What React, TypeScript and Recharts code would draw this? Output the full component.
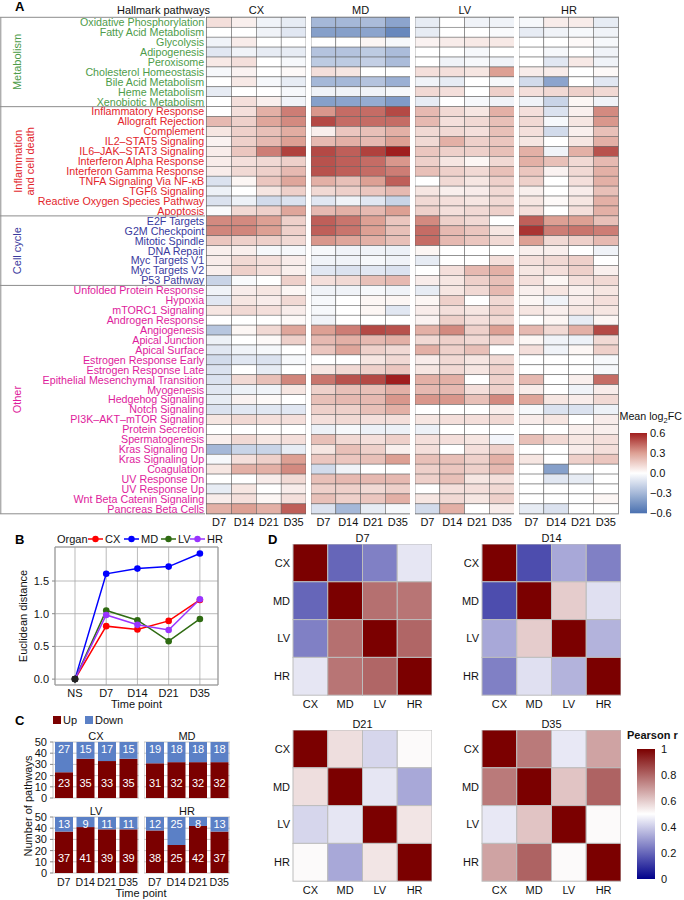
import React from "react";
import {
  ScatterChart,
  Scatter,
  XAxis,
  YAxis,
  ReferenceArea,
  LineChart,
  Line,
  CartesianGrid,
  BarChart,
  Bar,
  LabelList,
} from "recharts";

const FONT = "'Liberation Sans', Arial, Helvetica, sans-serif";

// ---------- panel A data ----------
const pathways = [
  "Oxidative Phosphorylation", "Fatty Acid Metabolism", "Glycolysis", "Adipogenesis", "Peroxisome",
  "Cholesterol Homeostasis", "Bile Acid Metabolism", "Heme Metabolism", "Xenobiotic Metabolism",
  "Inflammatory Response", "Allograft Rejection", "Complement", "IL2–STAT5 Signaling",
  "IL6–JAK–STAT3 Signaling", "Interferon Alpha Response", "Interferon Gamma Response",
  "TNFA Signaling Via NF-κB", "TGFß Signaling", "Reactive Oxygen Species Pathway", "Apoptosis",
  "E2F Targets", "G2M Checkpoint", "Mitotic Spindle", "DNA Repair", "Myc Targets V1", "Myc Targets V2",
  "P53 Pathway",
  "Unfolded Protein Response", "Hypoxia", "mTORC1 Signaling", "Androgen Response", "Angiogenesis",
  "Apical Junction", "Apical Surface", "Estrogen Response Early", "Estrogen Response Late",
  "Epithelial Mesenchymal Transition", "Myogenesis", "Hedgehog Signaling", "Notch Signaling",
  "PI3K–AKT–mTOR Signaling", "Protein Secretion", "Spermatogenesis", "Kras Signaling Dn",
  "Kras Signaling Up", "Coagulation", "UV Response Dn", "UV Response Up", "Wnt Beta Catenin Signaling",
  "Pancreas Beta Cells",
];
const groupNames = [["Metabolism"], ["Inflammation", "and cell death"], ["Cell cycle"], ["Other"]];
const groupSizes = [9, 11, 7, 23];
const groupColors = ["#4e9c4a", "#e2252b", "#3a3a9e", "#de1b9c"];
const timePoints = ["D7", "D14", "D21", "D35"];
const organs = ["CX", "MD", "LV", "HR"];

// mean log2FC, one row per pathway: D7, D14, D21, D35
const fcCX = [
  [0.1, 0.05, -0.05, -0.08], [0, 0, -0.05, -0.1], [-0.05, 0.06, 0, 0], [-0.1, -0.05, -0.08, -0.08],
  [0.07, 0.1, 0, -0.03], [-0.03, 0.04, 0, 0.02], [0, 0.07, -0.03, -0.08], [-0.08, 0, 0, -0.03],
  [0, 0.1, 0.05, -0.05],
  [0, 0.1, 0.25, 0.38], [0.22, 0.15, 0.28, 0.35], [0.08, 0.15, 0.2, 0.26], [0.04, 0.15, 0.22, 0.3],
  [0.06, 0.18, 0.38, 0.52], [0.06, 0.1, 0.12, 0.15], [0.06, 0.12, 0.15, 0.22], [-0.12, 0.03, 0.18, 0.28],
  [-0.06, 0, 0.08, 0.15], [-0.12, -0.06, -0.15, -0.12], [-0.02, 0.12, 0.15, 0.28],
  [0.35, 0.35, 0.3, 0.15], [0.36, 0.36, 0.3, 0.15], [0.18, 0.15, 0.15, 0.12], [0.05, 0.05, -0.03, -0.03],
  [0.06, 0.12, 0.1, 0.06], [0.05, 0.15, 0.1, 0.05], [-0.18, -0.02, 0, 0.15],
  [-0.05, 0.06, 0.08, 0.03], [-0.1, 0.08, 0.06, 0.12], [0.08, 0.12, 0.1, 0.06], [0, 0, 0, 0.02],
  [-0.24, 0.03, 0.12, 0.28], [-0.06, 0, 0.02, 0.15], [-0.1, -0.05, -0.03, 0], [-0.15, -0.1, -0.12, -0.03],
  [-0.12, 0, -0.08, 0], [-0.12, 0.12, 0.2, 0.36], [-0.1, -0.06, -0.05, 0.08], [-0.08, 0.04, 0.02, 0],
  [-0.12, -0.1, -0.1, -0.1], [0.08, 0.12, 0.1, 0.1], [0, 0, 0, 0], [0.05, 0.12, 0.08, 0.1],
  [-0.3, -0.18, -0.18, -0.08], [-0.03, 0.1, 0.15, 0.3], [0.08, 0.25, 0.25, 0.35], [0, 0, 0.06, 0.12],
  [-0.08, 0.08, 0, 0.06], [0.06, 0.1, 0.03, 0.1], [0.25, 0.3, 0.25, 0.45],
];
const fcMD = [
  [-0.3, -0.3, -0.28, -0.38], [-0.4, -0.4, -0.38, -0.5], [0, 0, 0.03, -0.03], [-0.25, -0.25, -0.22, -0.28],
  [-0.22, -0.22, -0.2, -0.28], [0.1, 0.08, 0, 0], [-0.3, -0.3, -0.25, -0.33], [-0.05, -0.05, -0.05, -0.03],
  [-0.4, -0.38, -0.35, -0.42],
  [0.32, 0.42, 0.42, 0.5], [0.5, 0.42, 0.42, 0.42], [0.05, 0.18, 0.2, 0.25], [0.22, 0.25, 0.22, 0.3],
  [0.5, 0.45, 0.52, 0.62], [0.48, 0.45, 0.42, 0.32], [0.48, 0.45, 0.42, 0.38], [0.25, 0.2, 0.3, 0.45],
  [0.12, 0.15, 0.18, 0.22], [-0.1, -0.05, -0.1, -0.18], [0.22, 0.25, 0.22, 0.3],
  [0.45, 0.4, 0.3, 0.18], [0.45, 0.4, 0.3, 0.2], [0.32, 0.28, 0.25, 0.2], [-0.03, -0.05, -0.05, -0.06],
  [-0.05, -0.05, -0.03, -0.05], [-0.1, -0.12, -0.1, -0.12], [0.1, 0.12, 0.2, 0.22],
  [-0.05, -0.05, -0.03, -0.05], [-0.03, 0, 0.03, 0.03], [-0.03, 0, 0.03, -0.1], [-0.05, 0, 0, 0],
  [0.3, 0.38, 0.5, 0.48], [0.22, 0.25, 0.22, 0.25], [0.18, 0.28, 0.15, 0.12], [0, 0, 0.08, 0.12],
  [0.08, 0.12, 0.15, 0.18], [0.4, 0.48, 0.5, 0.62], [0.15, 0.2, 0.2, 0.25], [0.2, 0.22, 0.22, 0.32],
  [0.15, 0.15, 0.2, 0.25], [0.1, 0.12, 0.1, 0.1], [-0.06, -0.03, -0.06, -0.06], [0.2, 0.12, 0.1, 0.15],
  [0.08, 0.2, 0.15, 0.05], [0.18, 0.18, 0.2, 0.3], [-0.15, -0.05, 0, 0], [0.2, 0.22, 0.22, 0.22],
  [0.15, 0.15, 0.12, 0.15], [0.2, 0.15, 0.18, 0.25], [-0.12, -0.3, -0.08, -0.03],
];
const fcLV = [
  [-0.08, 0, -0.05, -0.05], [-0.08, 0, 0, -0.02], [0.04, 0.06, 0.07, 0.07], [0, 0, -0.03, 0],
  [0, -0.05, -0.03, -0.05], [0.1, 0.1, 0.08, 0.3], [-0.05, -0.08, 0, -0.03], [0.12, 0.1, 0, 0.15],
  [-0.08, 0, -0.03, -0.05],
  [0.22, 0.12, 0.08, 0.25], [0.22, 0.1, 0.12, 0.2], [0.12, 0.12, 0.1, 0.2], [0.12, 0.25, 0.15, 0.18],
  [0.18, 0.15, 0.15, 0.2], [0.15, 0.08, 0.03, 0.12], [0.2, 0.15, 0.12, 0.2], [0, 0.12, 0.08, 0.15],
  [0.08, 0.05, 0.06, 0.12], [0.12, 0.1, 0.08, 0.12], [0.15, 0.1, 0.12, 0.15],
  [0.35, 0.15, 0.12, 0], [0.42, 0.22, 0.18, 0.08], [0.42, 0.22, 0.18, 0.12], [0.03, 0, 0, 0],
  [-0.08, 0, 0, 0.1], [0, 0.1, 0.22, 0.25], [0.06, 0.08, 0.15, 0.2],
  [-0.08, 0.08, 0.12, 0.22], [0.03, 0.15, 0, 0.12], [0.06, 0.1, 0.08, 0.15], [0.04, 0.15, 0.1, 0.12],
  [0.25, 0.35, 0.15, 0.3], [0.12, 0.15, 0.12, 0.15], [0.25, 0.15, 0.2, 0], [0.06, 0.12, 0.08, 0.12],
  [0.08, 0.12, 0.08, 0.15], [0.25, 0.25, 0, 0.15], [0.22, 0.22, 0.1, 0.15], [0.32, 0.32, 0.2, 0.35],
  [0, 0, 0, 0.05], [0.08, 0.1, 0.1, 0.12], [-0.06, 0, 0, 0], [0.1, 0.1, 0.08, -0.04],
  [0.1, 0, 0.1, 0.15], [0.2, 0.2, 0.15, 0.25], [0.15, 0.18, 0.15, 0.22], [0.15, 0.2, 0.08, 0.1],
  [0, 0.1, 0.1, 0.12], [0.08, 0.12, 0.08, 0.15], [-0.15, 0.25, 0, 0.06],
];
const fcHR = [
  [-0.03, 0.06, 0.06, -0.08], [-0.08, -0.05, -0.03, -0.05], [0, 0, 0.02, -0.03], [0, -0.03, 0, -0.05],
  [0, -0.1, 0.07, -0.05], [0.06, 0.06, 0, 0.02], [-0.15, -0.38, 0, -0.1], [0.1, 0.12, 0.15, 0.12],
  [-0.05, -0.18, 0.03, -0.05],
  [0.1, -0.12, 0.05, 0.35], [0.12, -0.03, 0.08, 0.32], [0.1, -0.15, 0.05, 0.2], [0.08, 0, 0.08, 0.25],
  [0.25, -0.05, 0.25, 0.48], [0.25, 0.2, 0.12, 0.22], [0.18, 0.04, 0.12, 0.25], [0.15, 0, 0.1, 0.25],
  [0.05, 0, 0.06, 0.2], [0.08, 0.02, 0.08, 0.25], [0.1, 0, 0.1, 0.25],
  [0.45, 0.3, 0.3, 0.2], [0.55, 0.38, 0.4, 0.38], [0.3, 0.12, 0.15, 0.22], [0.05, 0.05, 0, -0.05],
  [0.1, 0.12, 0.15, 0], [0.08, 0.1, 0.15, 0.05], [0.1, 0.03, 0.1, 0.12],
  [0.05, 0.08, 0.05, 0.08], [0.03, -0.05, 0.06, 0.1], [0.08, 0.05, 0.08, 0.08], [0, 0.03, -0.08, 0.03],
  [0.22, 0.12, 0.25, 0.5], [0.03, -0.05, -0.06, 0.12], [0.1, -0.05, 0.03, 0.15], [0, 0, 0, -0.03],
  [0, 0, 0, -0.03], [0.22, 0, 0.05, 0.42], [0.06, 0, -0.05, 0.06], [0.28, 0.08, 0.06, 0.12],
  [-0.03, -0.12, -0.12, -0.06], [0.06, 0.08, 0, 0.06], [0, 0, 0.05, 0.05], [0.2, 0.12, 0.08, 0.1],
  [0, 0, 0.06, 0.1], [0.08, 0, 0.15, 0.18], [0, -0.4, 0, 0], [0, -0.1, -0.08, 0],
  [0, 0, 0, 0], [0, 0, 0, 0.03], [-0.08, -0.12, 0, 0],
];
const fcBlocks = [fcCX, fcMD, fcLV, fcHR];
const fcLegendTicks = [0.6, 0.3, 0, -0.3, -0.6];

// ---------- panel B data ----------
const bTimes = ["NS", "D7", "D14", "D21", "D35"];
const distCX = [0, 0.81, 0.76, 0.89, 1.21];
const distMD = [0, 1.61, 1.69, 1.72, 1.92];
const distLV = [0, 1.05, 0.9, 0.58, 0.92];
const distHR = [0, 0.98, 0.83, 0.75, 1.22];
const distTicks = [0, 0.5, 1, 1.5];

// ---------- panel C data ----------
const upCX = [23, 35, 33, 35];
const downCX = [27, 15, 17, 15];
const upMD = [31, 32, 32, 32];
const downMD = [19, 18, 18, 18];
const upLV = [37, 41, 39, 39];
const downLV = [13, 9, 11, 11];
const upHR = [38, 25, 42, 37];
const downHR = [12, 25, 8, 13];
const countTicks = [0, 10, 20, 30, 40, 50];

// ---------- panel D data ----------
const corrD7 = [
  [1, 0.2, 0.25, 0.45],
  [0.2, 1, 0.78, 0.77],
  [0.25, 0.78, 1, 0.8],
  [0.45, 0.77, 0.8, 1],
];
const corrD14 = [
  [1, 0.15, 0.33, 0.25],
  [0.15, 1, 0.6, 0.44],
  [0.33, 0.6, 1, 0.35],
  [0.25, 0.44, 0.35, 1],
];
const corrD21 = [
  [1, 0.565, 0.42, 0.51],
  [0.565, 1, 0.45, 0.33],
  [0.42, 0.45, 1, 0.55],
  [0.51, 0.33, 0.55, 1],
];
const corrD35 = [
  [1, 0.76, 0.455, 0.68],
  [0.76, 1, 0.615, 0.805],
  [0.455, 0.615, 1, 0.51],
  [0.68, 0.805, 0.51, 1],
];
const pearsonTicks = [1, 0.8, 0.6, 0.4, 0.2, 0];

// ---------- colours ----------
const UP_COLOR = "#7b0000";
const DOWN_COLOR = "#5b80c6";

function ramp(stops: [number, number[]][], v: number) {
  const x = Math.max(stops[0][0], Math.min(stops[stops.length - 1][0], v));
  for (let i = 0; i < stops.length - 1; i++) {
    const [a, ca] = stops[i];
    const [b, cb] = stops[i + 1];
    if (x <= b) {
      const t = (x - a) / (b - a);
      return `rgb(${ca.map((c, k) => Math.round(c + (cb[k] - c) * t)).join(",")})`;
    }
  }
  return `rgb(${stops[stops.length - 1][1].join(",")})`;
}
const fcStops: [number, number[]][] = [
  [-0.6, [74, 112, 176]],
  [0, [255, 255, 255]],
  [0.3, [221, 160, 148]],
  [0.6, [160, 30, 30]],
];
const pearsonStops: [number, number[]][] = [
  [0, [0, 0, 139]],
  [0.5, [255, 255, 255]],
  [1, [123, 0, 0]],
];
const fcColor = (v: number) => ramp(fcStops, v);
const pearsonColor = (v: number) => ramp(pearsonStops, v);

// ---------- layout ----------
const HM_TOP = 17.3;
const ROW_H = 9.93;
const HM_H = pathways.length * ROW_H;
const LABEL_W = 206.7;
const BLOCK_W = 99.3;
const BLOCK_PITCH = 104.2;

const groupStart = groupSizes.map((_, i) => groupSizes.slice(0, i).reduce((a, b) => a + b, 0));
const groupOf = (row: number) => groupStart.filter((s) => s <= row).length - 1;

function HeatBlock({ index }: { index: number }) {
  const values = fcBlocks[index];
  const withLabels = index === 0;
  const data = values.flatMap((row, r) => row.map((v, c) => ({ col: c, row: r, v })));
  const cw = BLOCK_W / timePoints.length;
  const rowTicks = pathways.map((_, i) => i);
  return (
    <div style={{ position: "absolute", left: withLabels ? 0 : LABEL_W + index * BLOCK_PITCH, top: 0 }}>
      <ScatterChart
        width={(withLabels ? LABEL_W : 0) + BLOCK_W}
        height={HM_TOP + HM_H + 16}
        margin={{ top: HM_TOP, right: 0, bottom: 0, left: 0 }}
      >
        <XAxis
          type="number"
          dataKey="col"
          domain={[-0.5, timePoints.length - 0.5]}
          ticks={timePoints.map((_, i) => i)}
          interval={0}
          tickFormatter={(i: number) => timePoints[i]}
          tickLine={false}
          axisLine={false}
          tickSize={0}
          tickMargin={4}
          height={16}
          tick={{ fontSize: 11, fill: "#111" }}
        />
        <YAxis
          type="number"
          dataKey="row"
          domain={[-0.5, pathways.length - 0.5]}
          reversed
          ticks={rowTicks}
          interval={0}
          hide={!withLabels}
          width={withLabels ? LABEL_W : 0}
          tickLine={false}
          axisLine={false}
          tickSize={0}
          tickMargin={2.5}
          tick={(p: any) => (
            <text
              key={`t-${p.payload.value}`}
              x={p.x}
              y={p.y}
              dy="0.36em"
              textAnchor="end"
              fontSize={10.7}
              fill={groupColors[groupOf(p.payload.value)]}
            >
              {pathways[p.payload.value]}
            </text>
          )}
        />
        <Scatter
          data={data}
          isAnimationActive={false}
          shape={(p: any) => (
            <rect
              x={p.cx - cw / 2}
              y={p.cy - ROW_H / 2}
              width={cw}
              height={ROW_H}
              fill={fcColor(p.payload.v)}
              stroke="#5a5a5a"
              strokeWidth={0.5}
            />
          )}
        />
        <ReferenceArea
          x1={-0.5}
          x2={timePoints.length - 0.5}
          y1={-0.5}
          y2={pathways.length - 0.5}
          fill="none"
          stroke="#b0b0b0"
          strokeWidth={1.5}
          ifOverflow="visible"
        />
      </ScatterChart>
    </div>
  );
}

// ---------- panel B ----------
const distSeries = [
  { key: "CX", values: distCX, color: "#ff0000" },
  { key: "MD", values: distMD, color: "#0000ff" },
  { key: "LV", values: distLV, color: "#2f6b12" },
  { key: "HR", values: distHR, color: "#9933ff" },
];
const distData = bTimes.map((t, i) => {
  const row: any = { i, t };
  distSeries.forEach((s) => (row[s.key] = s.values[i]));
  return row;
});
const B_X_DOMAIN = [-0.64, 4.58];
const B_Y_DOMAIN = [-0.09, 2.02];

function DistanceChart() {
  return (
    <div style={{ position: "absolute", left: 0, top: 530 }}>
      <LineChart width={222} height={190} data={distData} margin={{ top: 17, right: 4, bottom: 0, left: 0 }}>
        <CartesianGrid stroke="#a8a8a8" strokeWidth={0.8} />
        <XAxis
          type="number"
          dataKey="i"
          domain={B_X_DOMAIN}
          ticks={bTimes.map((_, i) => i)}
          interval={0}
          tickFormatter={(i: number) => bTimes[i]}
          tickLine={false}
          axisLine={false}
          tickSize={0}
          tickMargin={4}
          height={35}
          tick={{ fontSize: 11, fill: "#111" }}
          label={{ value: "Time point", position: "insideBottom", offset: 12, fontSize: 11, fill: "#111" }}
        />
        <YAxis
          type="number"
          domain={B_Y_DOMAIN}
          ticks={distTicks}
          interval={0}
          tickFormatter={(v: number) => v.toFixed(1)}
          width={55}
          tickSize={3}
          tickMargin={3}
          tickLine={{ stroke: "#888" }}
          axisLine={false}
          tick={{ fontSize: 11, fill: "#111" }}
          label={{
            value: "Euclidean distance",
            angle: -90,
            position: "insideLeft",
            offset: 23,
            fontSize: 11,
            fill: "#111",
            style: { textAnchor: "middle" },
          }}
        />
        <ReferenceArea
          x1={B_X_DOMAIN[0]}
          x2={B_X_DOMAIN[1]}
          y1={B_Y_DOMAIN[0]}
          y2={B_Y_DOMAIN[1]}
          fill="none"
          stroke="#999"
          ifOverflow="visible"
        />
        {distSeries.map((s) => (
          <Line
            key={s.key}
            type="linear"
            dataKey={s.key}
            stroke={s.color}
            strokeWidth={1.5}
            isAnimationActive={false}
            dot={(p: any) => (
              <circle key={`${s.key}-${p.index}`} cx={p.cx} cy={p.cy} r={3.3} fill={p.index === 0 ? "#222" : s.color} />
            )}
          />
        ))}
      </LineChart>
    </div>
  );
}

// ---------- panel C ----------
const TOTAL_PATHWAYS = 50;
const UP_LABEL_AT = 13;
const DOWN_LABEL_AT = 43.5;

const upLabel = (p: any) => {
  const ppu = p.height / p.value;
  return (
    <text x={p.x + p.width / 2} y={p.y + p.height - UP_LABEL_AT * ppu} dy="0.36em" textAnchor="middle" fill="#fff" fontSize={11}>
      {p.value}
    </text>
  );
};
const downLabel = (p: any) => {
  const ppu = p.height / p.value;
  return (
    <text x={p.x + p.width / 2} y={p.y + (TOTAL_PATHWAYS - DOWN_LABEL_AT) * ppu} dy="0.36em" textAnchor="middle" fill="#fff" fontSize={11}>
      {p.value}
    </text>
  );
};

const facets = [
  { organ: "CX", up: upCX, down: downCX, left: 0, top: 742, showY: true, showX: false },
  { organ: "MD", up: upMD, down: downMD, left: 144, top: 742, showY: false, showX: false },
  { organ: "LV", up: upLV, down: downLV, left: 0, top: 817, showY: true, showX: true },
  { organ: "HR", up: upHR, down: downHR, left: 144, top: 817, showY: false, showX: true },
];
const FACET_W = 86;
const FACET_H = 56;
const FACET_Y_W = 53;
const FACET_PAD = 6;

function Facet({ f }: { f: (typeof facets)[number] }) {
  const data = timePoints.map((t, i) => ({ t, Up: f.up[i], Down: f.down[i] }));
  return (
    <div style={{ position: "absolute", left: f.left, top: f.top - FACET_PAD }}>
      <BarChart
        width={(f.showY ? FACET_Y_W : 0) + FACET_W}
        height={FACET_H + 2 * FACET_PAD + (f.showX ? 18 : 0)}
        data={data}
        margin={{ top: FACET_PAD, right: 0, bottom: f.showX ? 0 : FACET_PAD, left: 0 }}
        barSize={18}
      >
        <CartesianGrid
          stroke="#c4c4c4"
          verticalCoordinatesGenerator={({ offset }: any) => [offset.left, offset.left + offset.width]}
        />
        <XAxis
          dataKey="t"
          hide={!f.showX}
          height={f.showX ? 18 + FACET_PAD : 0}
          tickLine={false}
          axisLine={false}
          tickSize={0}
          tickMargin={5}
          interval={0}
          tick={{ fontSize: 10.6, fill: "#111" }}
        />
        <YAxis
          type="number"
          domain={[0, TOTAL_PATHWAYS]}
          ticks={countTicks}
          interval={0}
          hide={!f.showY}
          width={f.showY ? FACET_Y_W : 0}
          tickSize={3}
          tickMargin={3}
          tickLine={{ stroke: "#888" }}
          axisLine={false}
          tick={{ fontSize: 11, fill: "#111" }}
        />
        <Bar dataKey="Up" stackId="a" fill={UP_COLOR} isAnimationActive={false}>
          <LabelList dataKey="Up" content={upLabel} />
        </Bar>
        <Bar dataKey="Down" stackId="a" fill={DOWN_COLOR} isAnimationActive={false}>
          <LabelList dataKey="Down" content={downLabel} />
        </Bar>
      </BarChart>
    </div>
  );
}

// ---------- panel D ----------
const MAT_W = 139;
const MAT_H = 151.2;
const matrices = [
  { title: "D7", values: corrD7, x: 293, y: 544 },
  { title: "D14", values: corrD14, x: 482, y: 544 },
  { title: "D21", values: corrD21, x: 293, y: 730 },
  { title: "D35", values: corrD35, x: 482, y: 730 },
];

function CorrMatrix({ m }: { m: (typeof matrices)[number] }) {
  const data = m.values.flatMap((row, r) => row.map((v, c) => ({ c, r, v })));
  const cw = MAT_W / organs.length;
  const ch = MAT_H / organs.length;
  const idx = organs.map((_, i) => i);
  return (
    <div style={{ position: "absolute", left: m.x - 30, top: m.y }}>
      <ScatterChart width={30 + MAT_W} height={MAT_H + 18} margin={{ top: 0, right: 0, bottom: 0, left: 0 }}>
        <XAxis
          type="number"
          dataKey="c"
          domain={[-0.5, organs.length - 0.5]}
          ticks={idx}
          interval={0}
          tickFormatter={(i: number) => organs[i]}
          tickLine={false}
          axisLine={false}
          tickSize={0}
          tickMargin={5}
          height={18}
          tick={{ fontSize: 11, fill: "#111" }}
        />
        <YAxis
          type="number"
          dataKey="r"
          domain={[-0.5, organs.length - 0.5]}
          reversed
          ticks={idx}
          interval={0}
          tickFormatter={(i: number) => organs[i]}
          tickLine={false}
          axisLine={false}
          tickSize={0}
          tickMargin={3}
          width={30}
          tick={{ fontSize: 11, fill: "#111" }}
        />
        <Scatter
          data={data}
          isAnimationActive={false}
          shape={(p: any) => (
            <rect
              x={p.cx - cw / 2}
              y={p.cy - ch / 2}
              width={cw}
              height={ch}
              fill={pearsonColor(p.payload.v)}
              stroke="#bdbdbd"
              strokeWidth={1}
            />
          )}
        />
      </ScatterChart>
    </div>
  );
}

// ---------- annotations ----------
function Overlay() {
  const txt = { fontFamily: FONT, fontSize: 11, fill: "#111" } as const;
  const boundaries = [...groupStart, pathways.length];
  const fcBar = { x: 630, y: 433, w: 17, h: 80.3 };
  const pBar = { x: 637, y: 749, w: 18, h: 130 };
  const gradSteps = Array.from({ length: 13 }, (_, i) => i / 12);
  const legendItems = [
    { key: "CX", color: "#ff0000", x: 88 },
    { key: "MD", color: "#0000ff", x: 124 },
    { key: "LV", color: "#2f6b12", x: 161 },
    { key: "HR", color: "#9933ff", x: 190 },
  ];
  return (
    <svg
      width={684}
      height={900}
      style={{ position: "absolute", left: 0, top: 0, pointerEvents: "none", zIndex: 2 }}
    >
      <defs>
        <linearGradient id="fcGrad" x1="0" y1="0" x2="0" y2="1">
          {gradSteps.map((t) => (
            <stop key={t} offset={t} stopColor={fcColor(0.6 - 1.2 * t)} />
          ))}
        </linearGradient>
        <linearGradient id="pGrad" x1="0" y1="0" x2="0" y2="1">
          {gradSteps.map((t) => (
            <stop key={t} offset={t} stopColor={pearsonColor(1 - t)} />
          ))}
        </linearGradient>
      </defs>

      {/* panel letters */}
      {[
        ["A", 15, 6.5],
        ["B", 15, 539],
        ["C", 15, 720],
        ["D", 268, 539],
      ].map(([l, x, y]) => (
        <text key={l as string} x={x as number} y={y as number} dy="0.36em" fontFamily={FONT} fontSize={13} fontWeight="bold">
          {l}
        </text>
      ))}

      {/* panel A headers and groups */}
      <text {...txt} x={117} y={10.5} dy="0.36em">Hallmark pathways</text>
      {organs.map((o, i) => (
        <text key={o} {...txt} x={LABEL_W + i * BLOCK_PITCH + BLOCK_W / 2} y={10.5} dy="0.36em" textAnchor="middle">
          {o}
        </text>
      ))}
      <line x1={0.8} x2={0.8} y1={HM_TOP} y2={HM_TOP + HM_H} stroke="#8c8c8c" strokeWidth={1} />
      {boundaries.map((b) => (
        <line key={b} x1={0} x2={205} y1={HM_TOP + b * ROW_H} y2={HM_TOP + b * ROW_H} stroke="#8c8c8c" strokeWidth={1} />
      ))}
      {groupNames.map((lines, g) => {
        const cy = HM_TOP + (groupStart[g] + groupSizes[g] / 2) * ROW_H;
        return lines.map((ln, k) => {
          const x = lines.length > 1 ? 18.5 + k * 11.5 : 17.5;
          return (
            <text
              key={ln}
              x={x}
              y={cy}
              dy="0.36em"
              textAnchor="middle"
              transform={`rotate(-90 ${x} ${cy})`}
              fontFamily={FONT}
              fontSize={11}
              fill={groupColors[g]}
            >
              {ln}
            </text>
          );
        });
      })}

      {/* panel A legend */}
      <text {...txt} fontSize={10.7} x={619.5} y={416} dy="0.36em">
        Mean log<tspan fontSize={7.5} dy="3">2</tspan>
        <tspan dy="-3">FC</tspan>
      </text>
      <rect x={fcBar.x} y={fcBar.y} width={fcBar.w} height={fcBar.h} fill="url(#fcGrad)" />
      {fcLegendTicks.map((v) => (
        <text key={v} {...txt} x={650} y={fcBar.y + ((0.6 - v) / 1.2) * fcBar.h} dy="0.36em">
          {v < 0 ? `−${Math.abs(v).toFixed(1)}` : v.toFixed(1)}
        </text>
      ))}

      {/* panel B legend */}
      <text {...txt} x={57} y={539} dy="0.36em">Organ</text>
      {legendItems.map((it) => (
        <g key={it.key}>
          <line x1={it.x} x2={it.x + 15} y1={539} y2={539} stroke={it.color} strokeWidth={1.5} />
          <circle cx={it.x + 7.5} cy={539} r={3.2} fill={it.color} />
          <text {...txt} x={it.x + 17} y={539} dy="0.36em">{it.key}</text>
        </g>
      ))}

      {/* panel C legend and titles */}
      <rect x={53} y={716} width={8} height={8} fill={UP_COLOR} />
      <text {...txt} x={63} y={720} dy="0.36em">Up</text>
      <rect x={85} y={716} width={8} height={8} fill={DOWN_COLOR} />
      <text {...txt} x={95} y={720} dy="0.36em">Down</text>
      {facets.map((f) => (
        <text key={f.organ} {...txt} x={f.left + (f.showY ? FACET_Y_W : 0) + FACET_W / 2} y={f.top - 6} dy="0.36em" textAnchor="middle">
          {f.organ}
        </text>
      ))}
      <text {...txt} x={28} y={806} dy="0.36em" textAnchor="middle" transform="rotate(-90 28 806)">
        Number of pathways
      </text>
      <text {...txt} x={141} y={893} dy="0.36em" textAnchor="middle">Time point</text>

      {/* panel D titles and legend */}
      {matrices.map((m) => (
        <text key={m.title} {...txt} x={m.x + MAT_W / 2} y={m.y - 6} dy="0.36em" textAnchor="middle">
          {m.title}
        </text>
      ))}
      <text {...txt} x={627} y={735} dy="0.36em" fontWeight="bold">Pearson r</text>
      <rect x={pBar.x} y={pBar.y} width={pBar.w} height={pBar.h} fill="url(#pGrad)" />
      {pearsonTicks.map((v) => (
        <text key={v} {...txt} x={661} y={pBar.y + (1 - v) * pBar.h} dy="0.36em">
          {v === 0 || v === 1 ? String(v) : v.toFixed(1)}
        </text>
      ))}
    </svg>
  );
}

export default function App() {
  return (
    <div
      style={{
        position: "absolute",
        left: 0,
        top: 0,
        width: 684,
        height: 900,
        background: "#fff",
        fontFamily: FONT,
        overflow: "hidden",
      }}
    >
      {organs.map((o, i) => (
        <HeatBlock key={o} index={i} />
      ))}
      <DistanceChart />
      {facets.map((f) => (
        <Facet key={f.organ} f={f} />
      ))}
      {matrices.map((m) => (
        <CorrMatrix key={m.title} m={m} />
      ))}
      <Overlay />
    </div>
  );
}
